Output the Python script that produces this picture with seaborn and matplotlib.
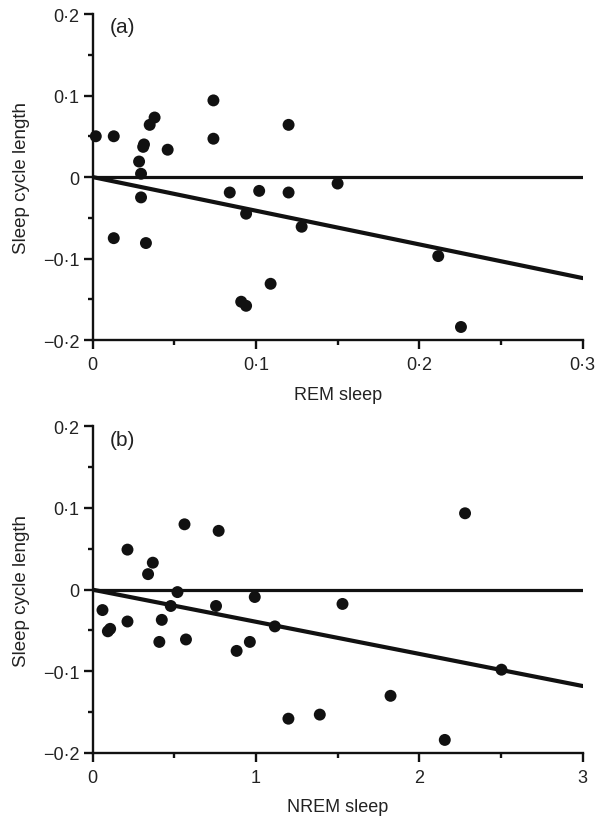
import matplotlib
matplotlib.use("Agg")
import matplotlib.pyplot as plt
import seaborn as sns
import pandas as pd

# ---- data ----
rem_x = [0.002, 0.013, 0.0285, 0.0297, 0.0315, 0.031, 0.035, 0.038, 0.046, 0.074, 0.074, 0.120,
         0.0297, 0.013, 0.0327, 0.084, 0.102, 0.120, 0.094, 0.128, 0.091, 0.094, 0.109,
         0.150, 0.2116, 0.2255]
rem_y = [0.050, 0.050, 0.019, 0.004, 0.040, 0.037, 0.064, 0.073, 0.0335, 0.094, 0.047, 0.064,
         -0.025, -0.075, -0.081, -0.019, -0.017, -0.019, -0.045, -0.061, -0.153, -0.158, -0.131,
         -0.008, -0.097, -0.184]
rem_fit_x = [0.0, 0.3]
rem_fit_y = [0.0, -0.124]

nrem_x = [0.214, 0.369, 0.340, 0.563, 0.772, 0.520, 0.993, 0.061, 0.479, 0.756, 0.094, 0.108,
          0.214, 0.424, 0.409, 0.572, 0.882, 0.963, 1.116, 1.199, 1.391, 1.530, 2.280, 2.503,
          1.824, 2.156]
nrem_y = [0.049, 0.033, 0.019, 0.080, 0.072, -0.003, -0.009, -0.025, -0.020, -0.020, -0.051, -0.048,
          -0.039, -0.037, -0.064, -0.061, -0.075, -0.064, -0.045, -0.158, -0.153, -0.0175, 0.0935, -0.098,
          -0.130, -0.184]
nrem_fit_x = [0.0, 3.0]
nrem_fit_y = [0.0, -0.118]

y_ticks = [-0.2, -0.1, 0.0, 0.1, 0.2]
y_minor = [-0.15, -0.05, 0.05, 0.15]
y_ticklabels = ["\u22120\u00b72", "\u22120\u00b71", "0", "0\u00b71", "0\u00b72"]

rem_ticks = [0.0, 0.1, 0.2, 0.3]
rem_minor = [0.05, 0.15, 0.25]
rem_ticklabels = ["0", "0\u00b71", "0\u00b72", "0\u00b73"]

nrem_ticks = [0, 1, 2, 3]
nrem_minor = [0.5, 1.5, 2.5]
nrem_ticklabels = ["0", "1", "2", "3"]

# ---- style ----
sns.set_style("ticks")
plt.rcParams["font.family"] = ["Liberation Sans", "DejaVu Sans"]
plt.rcParams["axes.linewidth"] = 1.7

fig = plt.figure(figsize=(5.98, 8.2), dpi=100)
ax_a = fig.add_axes([0.1547, 0.5841, 0.8197, 0.3976])
ax_b = fig.add_axes([0.1547, 0.0805, 0.8197, 0.3984])

panels = [
    (ax_a, rem_x, rem_y, rem_fit_x, rem_fit_y, rem_ticks, rem_minor, rem_ticklabels, "REM sleep", "(a)", (0, 0.3)),
    (ax_b, nrem_x, nrem_y, nrem_fit_x, nrem_fit_y, nrem_ticks, nrem_minor, nrem_ticklabels, "NREM sleep", "(b)", (0, 3)),
]

for ax, xs, ys, fx, fy, xt, xm, xtl, xlabel, tag, xlim in panels:
    df = pd.DataFrame({"x": xs, "y": ys})
    fit = pd.DataFrame({"x": fx, "y": fy})
    ax.axhline(0, color="#111111", lw=2.3, zorder=1)
    sns.lineplot(data=fit, x="x", y="y", ax=ax, color="#111111", lw=3.0, zorder=2)
    sns.scatterplot(data=df, x="x", y="y", ax=ax, color="#111111", s=74,
                    edgecolor="none", linewidth=0, zorder=3, clip_on=False)
    ax.set_xlim(*xlim)
    ax.set_ylim(-0.2, 0.2)
    ax.set_xticks(xt)
    ax.set_xticklabels(xtl)
    ax.set_xticks(xm, minor=True)
    ax.set_yticks(y_ticks)
    ax.set_yticklabels(y_ticklabels)
    ax.set_yticks(y_minor, minor=True)
    ax.tick_params(axis="both", which="major", direction="out", length=6.5, width=1.7,
                   labelsize=13, color="#111111", labelcolor="#222222")
    ax.tick_params(axis="x", which="major", pad=5)
    ax.tick_params(axis="y", which="major", pad=3)
    ax.tick_params(axis="both", which="minor", direction="out", length=3.5, width=1.7,
                   color="#111111")
    for side in ["top", "right"]:
        ax.spines[side].set_visible(False)
    for side in ["left", "bottom"]:
        ax.spines[side].set_color("#111111")
    ax.set_xlabel(xlabel, fontsize=13, color="#222222", labelpad=9)
    ax.set_ylabel("Sleep cycle length", fontsize=13.5, color="#222222", labelpad=9)
    ax.text(0.036, 0.99, tag, transform=ax.transAxes, fontsize=15, va="top", ha="left",
            color="#222222")

fig.savefig("out.png", dpi=100)
